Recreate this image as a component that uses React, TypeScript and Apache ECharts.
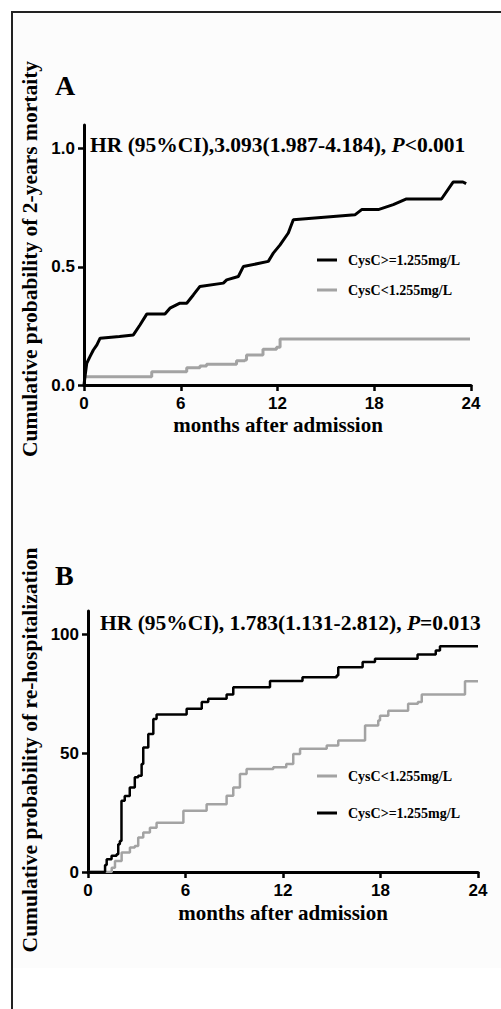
import React, { useEffect, useRef } from "react";
import * as echarts from "echarts";

// Panel A: cumulative probability of 2-year mortality
const monthTicks = [0, 6, 12, 18, 24];
const aYTicks = [0, 0.5, 1.0];
const bYTicks = [0, 50, 100];

const aHigh: [number, number][] = [
  [0, 0], [0.06, 0.035], [0.17, 0.092], [0.37, 0.12], [0.58, 0.148], [0.8, 0.17], [1.0, 0.198],
  [2.2, 0.205], [3.06, 0.212], [3.47, 0.254], [3.89, 0.3], [5.02, 0.3], [5.33, 0.325],
  [5.95, 0.346], [6.37, 0.346], [6.78, 0.381], [7.19, 0.417], [8.64, 0.431], [8.85, 0.445],
  [9.57, 0.459], [9.88, 0.501], [11.43, 0.523], [11.74, 0.558], [12.16, 0.593], [12.67, 0.643],
  [12.98, 0.699], [16.8, 0.72], [17.22, 0.742], [18.25, 0.742], [19.18, 0.763], [20.0, 0.787],
  [22.17, 0.787], [22.9, 0.859], [23.5, 0.859], [23.7, 0.852],
];
const aLow: [number, number][] = [
  [0, 0.035], [3.78, 0.035], [4.2, 0.056], [5.74, 0.056], [6.37, 0.073], [7.19, 0.08],
  [7.6, 0.088], [9.05, 0.088], [9.46, 0.103], [9.98, 0.106], [10.08, 0.127], [10.9, 0.127],
  [11.1, 0.151], [11.94, 0.16], [12.16, 0.195], [23.94, 0.194],
];

// Panel B: cumulative probability of re-hospitalization (%)
const bHigh: [number, number][] = [
  [0, 0], [0.94, 0], [1.05, 3], [1.15, 5.4], [1.45, 6.8], [1.76, 7.5], [1.86, 11.7], [1.96, 13.1],
  [2.06, 30], [2.26, 32], [2.57, 35.6], [2.88, 39.9], [3.09, 40.6], [3.3, 45.5], [3.4, 52.5],
  [3.71, 58.2], [4.02, 64.5], [4.22, 66.4], [6.07, 68.8], [7.0, 71.6], [7.4, 73], [8.53, 74.8],
  [8.94, 77.9], [11.2, 80.5], [13.2, 82.1], [15.3, 82.8], [15.4, 86.3], [16.9, 88.5],
  [17.66, 89.9], [20.28, 91.7], [21.4, 93.4], [21.66, 95.1], [24, 95.1],
];
const bLow: [number, number][] = [
  [0, 0], [1.46, 1.8], [1.66, 4.6], [2.07, 8.2], [2.58, 10.3], [2.88, 11], [3.09, 14.5],
  [3.4, 16.6], [3.81, 18.7], [4.22, 20.8], [5.87, 25.8], [7.3, 28.6], [8.53, 32.1], [8.94, 35.6],
  [9.35, 41.3], [9.76, 43.4], [11.4, 44.1], [12.2, 45.5], [12.63, 49.7], [13.05, 51.9],
  [14.69, 53.3], [15.4, 55.4], [17.05, 61.7], [17.86, 63.8], [17.97, 65.9], [18.48, 68.0],
  [19.7, 70.9], [20.3, 71.6], [20.54, 74.8], [23.2, 80.4], [24, 80.4],
];

const labelHigh = "CysC>=1.255mg/L";
const labelLow = "CysC<1.255mg/L";
const hrA = ["HR (95%CI),3.093(1.987-4.184), ", "P", "<0.001"];
const hrB = ["HR (95%CI), 1.783(1.131-2.812), ", "P", "=0.013"];
const yTitleA = "Cumulative probability of 2-years mortaity";
const yTitleB = "Cumulative probability of re-hospitalization";
const xTitle = "months after admission";

const SERIF = "'Liberation Serif', 'Times New Roman', serif";
const SANS = "'Liberation Sans', Arial, sans-serif";
const BLACK = "#000";
const GREY = "#a3a3a3";

function axisCommon() {
  return {
    axisLine: { show: true, onZero: false, lineStyle: { color: BLACK, width: 3 } },
    axisTick: { show: true, length: 6, lineStyle: { color: BLACK, width: 2.5 } },
    splitLine: { show: false },
  };
}

export default function App() {
  const ref = useRef<HTMLDivElement>(null);
  useEffect(() => {
    if (!ref.current) return;
    const chart = echarts.init(ref.current, null, { renderer: "svg" });
    const tickLabel = { color: BLACK, fontFamily: SANS, fontWeight: "bold" as const, fontSize: 17 };
    const hrText = (parts: string[], x: number, y: number) => ({
      type: "text",
      x,
      y,
      style: {
        text: `{b|${parts[0]}}{i|${parts[1]}}{b|${parts[2]}}`,
        verticalAlign: "middle",
        rich: {
          b: { fontFamily: SERIF, fontWeight: "bold", fontSize: 21.5, fill: BLACK },
          i: { fontFamily: SERIF, fontWeight: "bold", fontStyle: "italic", fontSize: 21.5, fill: BLACK },
        },
      },
    });
    const serifText = (text: string, x: number, y: number, size: number, rot = 0, align = "center") => ({
      type: "text",
      x,
      y,
      rotation: rot,
      style: {
        text,
        fontFamily: SERIF,
        fontWeight: "bold",
        fontSize: size,
        fill: BLACK,
        align,
        verticalAlign: "middle",
      },
    });
    const legendItem = (label: string, color: string, y: number) => [
      { type: "line", shape: { x1: 317, y1: y, x2: 337, y2: y }, style: { stroke: color, lineWidth: 3 } },
      serifText(label, 348, y, 14, 0, "left"),
    ];
    chart.setOption({
      animation: false,
      grid: [
        { left: 84, top: 125, width: 387, height: 260 },
        { left: 88, top: 611, width: 390, height: 261 },
      ],
      xAxis: [0, 1].map((i) => ({
        type: "value",
        gridIndex: i,
        min: 0,
        max: 24,
        interval: 6,
        ...axisCommon(),
        axisLabel: { ...tickLabel, margin: 10, customValues: monthTicks },
      })),
      yAxis: [
        {
          type: "value",
          gridIndex: 0,
          min: 0,
          max: 1.1,
          ...axisCommon(),
          axisTick: { show: true, length: 6, lineStyle: { color: BLACK, width: 2.5 }, customValues: aYTicks },
          axisLabel: { ...tickLabel, margin: 9, customValues: aYTicks, formatter: (v: number) => v.toFixed(1) },
        },
        {
          type: "value",
          gridIndex: 1,
          min: 0,
          max: 110,
          ...axisCommon(),
          axisTick: { show: true, length: 6, lineStyle: { color: BLACK, width: 2.5 }, customValues: bYTicks },
          axisLabel: { ...tickLabel, margin: 9, customValues: bYTicks },
        },
      ],
      series: [
        { type: "line", xAxisIndex: 0, yAxisIndex: 0, data: aLow, step: "end", showSymbol: false, lineStyle: { color: GREY, width: 3 } },
        { type: "line", xAxisIndex: 0, yAxisIndex: 0, data: aHigh, showSymbol: false, lineStyle: { color: BLACK, width: 3 } },
        { type: "line", xAxisIndex: 1, yAxisIndex: 1, data: bLow, step: "end", showSymbol: false, lineStyle: { color: GREY, width: 2.5 } },
        { type: "line", xAxisIndex: 1, yAxisIndex: 1, data: bHigh, step: "end", showSymbol: false, lineStyle: { color: BLACK, width: 2.5 } },
      ],
      graphic: [
        { type: "rect", z: -10, shape: { x: 13, y: 13, width: 488, height: 955 }, style: { fill: "#fcfcfc" } },
        { type: "polyline", shape: { points: [[12, 1015], [12, 12], [505, 12]] }, style: { stroke: "#222", lineWidth: 2, fill: null } },
        serifText("A", 55, 85, 28, 0, "left"),
        serifText("B", 55, 575, 28, 0, "left"),
        hrText(hrA, 90, 145),
        hrText(hrB, 100, 623),
        serifText(yTitleA, 30, 259, 21.5, Math.PI / 2),
        serifText(yTitleB, 30, 750, 21.5, Math.PI / 2),
        serifText(xTitle, 278, 425, 21),
        serifText(xTitle, 283, 913, 21),
        ...legendItem(labelHigh, BLACK, 260),
        ...legendItem(labelLow, GREY, 290),
        ...legendItem(labelLow, GREY, 776),
        ...legendItem(labelHigh, BLACK, 813),
      ],
    });
    return () => chart.dispose();
  }, []);
  return (
    <div
      ref={ref}
      style={{ position: "fixed", left: 0, top: 0, width: 501, height: 1009, background: "#fff" }}
    />
  );
}
